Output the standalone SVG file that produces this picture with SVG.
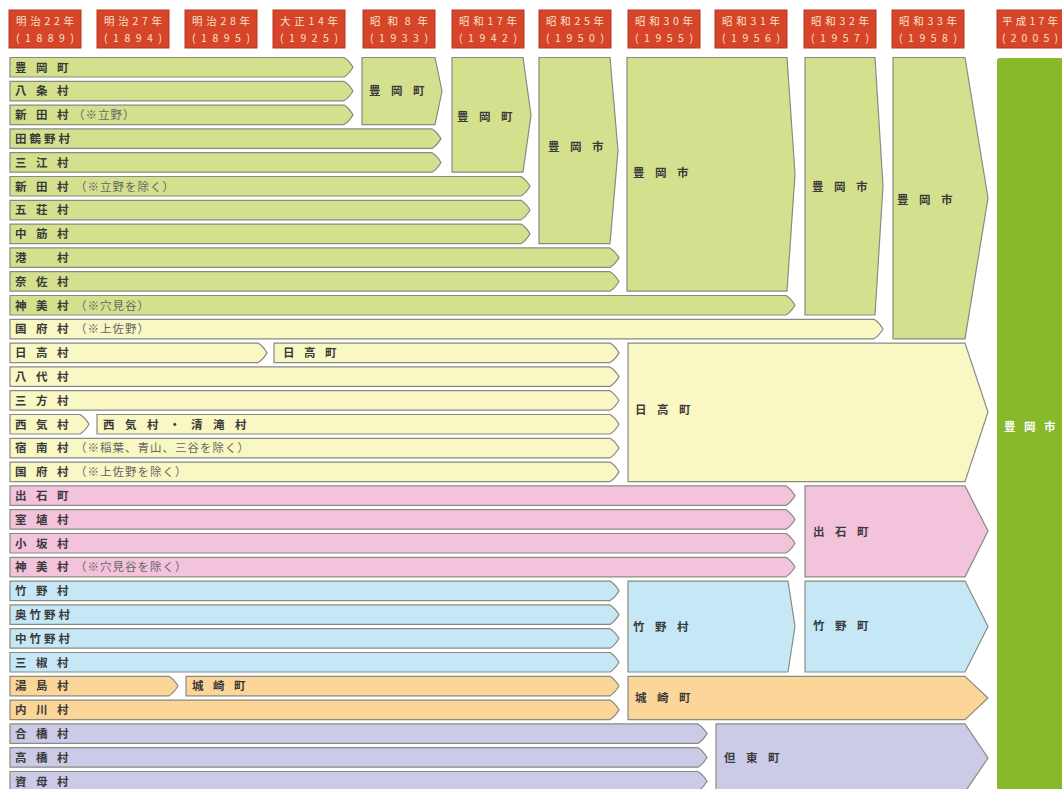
<svg xmlns="http://www.w3.org/2000/svg" width="1062" height="789" viewBox="0 0 1062 789">
<style>
text{font-family:"Noto Sans CJK JP","Noto Sans",sans-serif}
.hd rect{fill:#d6452a;stroke:#b8361f;stroke-width:1}
.hd text{fill:#f8e2c6;font-size:10.5px;text-anchor:middle}
.b{stroke:#8a8a80;stroke-width:1.2}
.g{fill:#d5e08f}.y{fill:#f9f7c4}.p{fill:#f3c2db}.c{fill:#c6e7f5}.o{fill:#fbd698}.v{fill:#cbcbe8}
.l{font-size:11.5px;font-weight:700;fill:#3a3a3a}
.n{font-size:11.5px;fill:#666;letter-spacing:1px}
.w{font-size:11.5px;font-weight:700;fill:#ffffff}
</style>
<rect width="1062" height="789" fill="#ffffff"/>
<g id="headers" class="hd">
<g id="h1"><rect x="9" y="10" width="72" height="38"/><text x="45" y="25" textLength="58" lengthAdjust="spacing">明治22年</text><text x="45" y="42" textLength="58" lengthAdjust="spacing">(1889)</text></g>
<g id="h2"><rect x="97" y="10" width="72" height="38"/><text x="133" y="25" textLength="58" lengthAdjust="spacing">明治27年</text><text x="133" y="42" textLength="58" lengthAdjust="spacing">(1894)</text></g>
<g id="h3"><rect x="185" y="10" width="72" height="38"/><text x="221" y="25" textLength="58" lengthAdjust="spacing">明治28年</text><text x="221" y="42" textLength="58" lengthAdjust="spacing">(1895)</text></g>
<g id="h4"><rect x="273" y="10" width="72" height="38"/><text x="309" y="25" textLength="58" lengthAdjust="spacing">大正14年</text><text x="309" y="42" textLength="58" lengthAdjust="spacing">(1925)</text></g>
<g id="h5"><rect x="363" y="10" width="72" height="38"/><text x="399" y="25" textLength="58" lengthAdjust="spacing">昭和8年</text><text x="399" y="42" textLength="58" lengthAdjust="spacing">(1933)</text></g>
<g id="h6"><rect x="452" y="10" width="72" height="38"/><text x="488" y="25" textLength="58" lengthAdjust="spacing">昭和17年</text><text x="488" y="42" textLength="58" lengthAdjust="spacing">(1942)</text></g>
<g id="h7"><rect x="539" y="10" width="72" height="38"/><text x="575" y="25" textLength="58" lengthAdjust="spacing">昭和25年</text><text x="575" y="42" textLength="58" lengthAdjust="spacing">(1950)</text></g>
<g id="h8"><rect x="628" y="10" width="72" height="38"/><text x="664" y="25" textLength="58" lengthAdjust="spacing">昭和30年</text><text x="664" y="42" textLength="58" lengthAdjust="spacing">(1955)</text></g>
<g id="h9"><rect x="715" y="10" width="72" height="38"/><text x="751" y="25" textLength="58" lengthAdjust="spacing">昭和31年</text><text x="751" y="42" textLength="58" lengthAdjust="spacing">(1956)</text></g>
<g id="h10"><rect x="804" y="10" width="72" height="38"/><text x="840" y="25" textLength="58" lengthAdjust="spacing">昭和32年</text><text x="840" y="42" textLength="58" lengthAdjust="spacing">(1957)</text></g>
<g id="h11"><rect x="892" y="10" width="72" height="38"/><text x="928" y="25" textLength="58" lengthAdjust="spacing">昭和33年</text><text x="928" y="42" textLength="58" lengthAdjust="spacing">(1958)</text></g>
<g id="h12"><rect x="997" y="10" width="66" height="38"/><text x="1030" y="25" textLength="56" lengthAdjust="spacing">平成17年</text><text x="1030" y="42" textLength="56" lengthAdjust="spacing">(2005)</text></g>
</g>
<g id="rows">
<g id="r1"><path class="b g" d="M10,57.5 H344 Q349,60.5 353,67.25 Q349,74 344,77 H10 Z"/><text class="l" x="15 36 57" y="71.5">豊岡町</text></g>
<g id="r2"><path class="b g" d="M10,81.3 H344 Q349,84.3 353,91.05 Q349,97.8 344,100.8 H10 Z"/><text class="l" x="15 36 57" y="95.3">八条村</text></g>
<g id="r3"><path class="b g" d="M10,105.1 H344 Q349,108.1 353,114.85 Q349,121.6 344,124.6 H10 Z"/><text class="l" x="15 36 57" y="119.1">新田村</text><text class="n" x="73" y="119.1">（※立野）</text></g>
<g id="r4"><path class="b g" d="M10,128.9 H432 Q437,131.9 441,138.65 Q437,145.4 432,148.4 H10 Z"/><text class="l" x="15 29.5 44 58.5" y="142.9">田鶴野村</text></g>
<g id="r5"><path class="b g" d="M10,152.7 H432 Q437,155.7 441,162.45 Q437,169.2 432,172.2 H10 Z"/><text class="l" x="15 36 57" y="166.7">三江村</text></g>
<g id="r6"><path class="b g" d="M10,176.5 H521 Q526,179.5 530,186.25 Q526,193 521,196 H10 Z"/><text class="l" x="15 36 57" y="190.5">新田村</text><text class="n" x="75" y="190.5">（※立野を除く）</text></g>
<g id="r7"><path class="b g" d="M10,200.3 H521 Q526,203.3 530,210.05 Q526,216.8 521,219.8 H10 Z"/><text class="l" x="15 36 57" y="214.3">五荘村</text></g>
<g id="r8"><path class="b g" d="M10,224.1 H521 Q526,227.1 530,233.85 Q526,240.6 521,243.6 H10 Z"/><text class="l" x="15 36 57" y="238.1">中筋村</text></g>
<g id="r9"><path class="b g" d="M10,247.9 H610 Q615,250.9 619,257.65 Q615,264.4 610,267.4 H10 Z"/><text class="l" x="15 57" y="261.9">港村</text></g>
<g id="r10"><path class="b g" d="M10,271.7 H610 Q615,274.7 619,281.45 Q615,288.2 610,291.2 H10 Z"/><text class="l" x="15 36 57" y="285.7">奈佐村</text></g>
<g id="r11"><path class="b g" d="M10,295.5 H786 Q791,298.5 795,305.25 Q791,312 786,315 H10 Z"/><text class="l" x="15 36 57" y="309.5">神美村</text><text class="n" x="75" y="309.5">（※穴見谷）</text></g>
<g id="r12"><path class="b y" d="M10,319.3 H874 Q879,322.3 883,329.05 Q879,335.8 874,338.8 H10 Z"/><text class="l" x="15 36 57" y="333.3">国府村</text><text class="n" x="75" y="333.3">（※上佐野）</text></g>
<g id="r13"><path class="b y" d="M10,343.1 H258 Q263,346.1 267,352.85 Q263,359.6 258,362.6 H10 Z"/><text class="l" x="15 36 57" y="357.1">日高村</text></g>
<g id="r13b"><path class="b y" d="M274,343.1 H610 Q615,346.1 619,352.85 Q615,359.6 610,362.6 H274 Z"/><text class="l" x="283 304 325" y="357.1">日高町</text></g>
<g id="r14"><path class="b y" d="M10,366.9 H610 Q615,369.9 619,376.65 Q615,383.4 610,386.4 H10 Z"/><text class="l" x="15 36 57" y="380.9">八代村</text></g>
<g id="r15"><path class="b y" d="M10,390.7 H610 Q615,393.7 619,400.45 Q615,407.2 610,410.2 H10 Z"/><text class="l" x="15 36 57" y="404.7">三方村</text></g>
<g id="r16"><path class="b y" d="M10,414.5 H80 Q85,417.5 89,424.25 Q85,431 80,434 H10 Z"/><text class="l" x="15 36 57" y="428.5">西気村</text></g>
<g id="r16b"><path class="b y" d="M97,414.5 H610 Q615,417.5 619,424.25 Q615,431 610,434 H97 Z"/><text class="l" x="103 125 147 169 191 213 235" y="428.5">西気村・清滝村</text></g>
<g id="r17"><path class="b y" d="M10,438.3 H610 Q615,441.3 619,448.05 Q615,454.8 610,457.8 H10 Z"/><text class="l" x="15 36 57" y="452.3">宿南村</text><text class="n" x="75" y="452.3">（※稲葉、青山、三谷を除く）</text></g>
<g id="r18"><path class="b y" d="M10,462.1 H610 Q615,465.1 619,471.85 Q615,478.6 610,481.6 H10 Z"/><text class="l" x="15 36 57" y="476.1">国府村</text><text class="n" x="75" y="476.1">（※上佐野を除く）</text></g>
<g id="r19"><path class="b p" d="M10,485.9 H786 Q791,488.9 795,495.65 Q791,502.4 786,505.4 H10 Z"/><text class="l" x="15 36 57" y="499.9">出石町</text></g>
<g id="r20"><path class="b p" d="M10,509.7 H786 Q791,512.7 795,519.45 Q791,526.2 786,529.2 H10 Z"/><text class="l" x="15 36 57" y="523.7">室埴村</text></g>
<g id="r21"><path class="b p" d="M10,533.5 H786 Q791,536.5 795,543.25 Q791,550 786,553 H10 Z"/><text class="l" x="15 36 57" y="547.5">小坂村</text></g>
<g id="r22"><path class="b p" d="M10,557.3 H786 Q791,560.3 795,567.05 Q791,573.8 786,576.8 H10 Z"/><text class="l" x="15 36 57" y="571.3">神美村</text><text class="n" x="75" y="571.3">（※穴見谷を除く）</text></g>
<g id="r23"><path class="b c" d="M10,581.1 H610 Q615,584.1 619,590.85 Q615,597.6 610,600.6 H10 Z"/><text class="l" x="15 36 57" y="595.1">竹野村</text></g>
<g id="r24"><path class="b c" d="M10,604.9 H610 Q615,607.9 619,614.65 Q615,621.4 610,624.4 H10 Z"/><text class="l" x="15 29.5 44 58.5" y="618.9">奥竹野村</text></g>
<g id="r25"><path class="b c" d="M10,628.7 H610 Q615,631.7 619,638.45 Q615,645.2 610,648.2 H10 Z"/><text class="l" x="15 29.5 44 58.5" y="642.7">中竹野村</text></g>
<g id="r26"><path class="b c" d="M10,652.5 H610 Q615,655.5 619,662.25 Q615,669 610,672 H10 Z"/><text class="l" x="15 36 57" y="666.5">三椒村</text></g>
<g id="r27"><path class="b o" d="M10,676.3 H169 Q174,679.3 178,686.05 Q174,692.8 169,695.8 H10 Z"/><text class="l" x="15 36 57" y="690.3">湯島村</text></g>
<g id="r27b"><path class="b o" d="M186,676.3 H610 Q615,679.3 619,686.05 Q615,692.8 610,695.8 H186 Z"/><text class="l" x="192 213 234" y="690.3">城崎町</text></g>
<g id="r28"><path class="b o" d="M10,700.1 H610 Q615,703.1 619,709.85 Q615,716.6 610,719.6 H10 Z"/><text class="l" x="15 36 57" y="714.1">内川村</text></g>
<g id="r29"><path class="b v" d="M10,723.9 H698 Q703,726.9 707,733.65 Q703,740.4 698,743.4 H10 Z"/><text class="l" x="15 36 57" y="737.9">合橋村</text></g>
<g id="r30"><path class="b v" d="M10,747.7 H698 Q703,750.7 707,757.45 Q703,764.2 698,767.2 H10 Z"/><text class="l" x="15 36 57" y="761.7">高橋村</text></g>
<g id="r31"><path class="b v" d="M10,771.5 H698 Q703,774.5 707,781.25 Q703,788 698,791 H10 Z"/><text class="l" x="15 36 57" y="785.5">資母村</text></g>
</g>
<g id="merged">
<g id="m-toyooka-1933"><polygon class="b g" points="362,57.5 435,57.5 442,91 435,124.6 362,124.6"/><text class="l" x="369 391 413" y="95">豊岡町</text></g>
<g id="m-toyooka-1942"><polygon class="b g" points="452,57.5 523,57.5 531,115 523,172.2 452,172.2"/><text class="l" x="457 479 501" y="121">豊岡町</text></g>
<g id="m-toyooka-1950"><polygon class="b g" points="539,57.5 610,57.5 618,150.5 610,243.6 539,243.6"/><text class="l" x="548 570 592" y="151">豊岡市</text></g>
<g id="m-toyooka-1955"><polygon class="b g" points="627,57.5 787,57.5 795,174 787,291.2 627,291.2"/><text class="l" x="633 655 677" y="177">豊岡市</text></g>
<g id="m-toyooka-1957"><polygon class="b g" points="805,57.5 875,57.5 883,186 875,315 805,315"/><text class="l" x="812 834 856" y="191">豊岡市</text></g>
<g id="m-toyooka-1958"><polygon class="b g" points="893,57.5 965,57.5 988,198 965,338.8 893,338.8"/><text class="l" x="897 919 941" y="204">豊岡市</text></g>
<g id="m-hidaka"><polygon class="b y" points="628,343.1 965,343.1 988,412 965,481.6 628,481.6"/><text class="l" x="635 657 679" y="414">日高町</text></g>
<g id="m-izushi"><polygon class="b p" points="805,485.9 965,485.9 988,531 965,576.8 805,576.8"/><text class="l" x="813 835 857" y="536">出石町</text></g>
<g id="m-takeno-village"><polygon class="b c" points="628,581.1 788,581.1 795,626.5 788,672 628,672"/><text class="l" x="633 655 677" y="631">竹野村</text></g>
<g id="m-takeno-town"><polygon class="b c" points="805,581.1 965,581.1 988,626.5 965,672 805,672"/><text class="l" x="813 835 857" y="630">竹野町</text></g>
<g id="m-kinosaki"><polygon class="b o" points="628,676.3 965,676.3 988,698 965,719.6 628,719.6"/><text class="l" x="635 657 679" y="702">城崎町</text></g>
<g id="m-tanto"><polygon class="b v" points="716,723.9 965,723.9 988,758 965,792 716,792"/><text class="l" x="724 746 768" y="762">但東町</text></g>
<g id="m-toyooka-2005"><rect x="997" y="58" width="66" height="732" rx="3" fill="#88b92a"/><text class="w" x="1004 1024 1044" y="431">豊岡市</text></g>
</g>
</svg>
